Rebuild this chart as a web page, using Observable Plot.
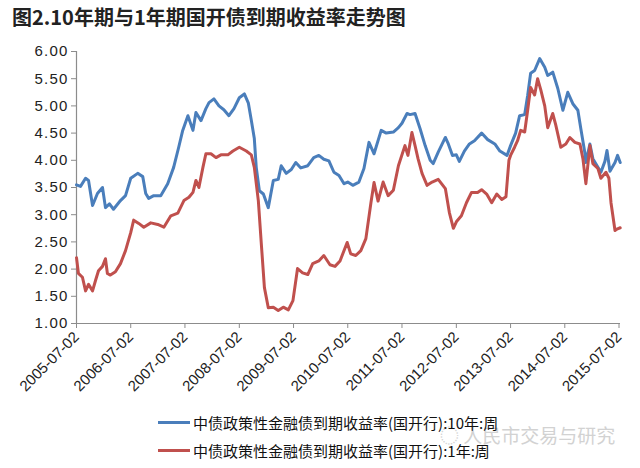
<!DOCTYPE html>
<html>
<head>
<meta charset="utf-8">
<script src="https://cdn.jsdelivr.net/npm/d3@7"></script>
<script src="https://cdn.jsdelivr.net/npm/@observablehq/plot@0.6"></script>
<style>
  html, body { margin: 0; padding: 0; background: #fff; }
  #wrap { position: relative; width: 640px; height: 468px; overflow: hidden; }
  #title { position: absolute; left: 12px; top: 5px; font-family: "Noto Sans CJK SC", sans-serif; font-weight: bold; font-size: 20px; line-height: 24px; color: #222; white-space: nowrap; }
  #chart { position: absolute; left: 0; top: 0; }
  #chart g[aria-label="y-axis tick label"] text { letter-spacing: 1.2px; }
  .leg { position: absolute; left: 158px; height: 20px; display: flex; align-items: center; font-family: "Noto Sans CJK SC", sans-serif; font-size: 15px; color: #111; white-space: nowrap; }
  .sw { width: 32px; height: 3px; margin-right: 3px; }
  #wm { position: absolute; left: 440px; top: 421px; font-family: "Noto Sans CJK SC", sans-serif; font-size: 19px; color: #d2d2d2; white-space: nowrap; }
</style>
</head>
<body>
<div id="wrap">
  <div id="chart"></div>
  <div id="title"></div>
  <div id="wm"></div>
  <div id="leg1" class="leg" style="top:412px"><div class="sw"></div><span></span></div>
  <div id="leg2" class="leg" style="top:440px"><div class="sw"></div><span></span></div>
</div>
<script>
const titleText = "图2.10年期与1年期国开债到期收益率走势图";
const seriesNames = ["中债政策性金融债到期收益率(国开行):10年:周", "中债政策性金融债到期收益率(国开行):1年:周"];
const seriesColors = ["#4a7ebb", "#c0504d"];
const watermark = "◌ 人民市交易与研究";
const xTickLabels = ["2005-07-02","2006-07-02","2007-07-02","2008-07-02","2009-07-02","2010-07-02","2011-07-02","2012-07-02","2013-07-02","2014-07-02","2015-07-02"];
const yTicks = [1, 1.5, 2, 2.5, 3, 3.5, 4, 4.5, 5, 5.5, 6];
const xDomain = ["2005-07-02", "2015-07-12"];

const dates10 = ["2005-07-02","2005-07-29","2005-09-01","2005-09-21","2005-10-18","2005-11-20","2005-12-24","2006-01-13","2006-02-09","2006-03-08","2006-04-24","2006-05-28","2006-07-02","2006-08-18","2006-09-21","2006-10-11","2006-10-31","2006-12-04","2007-01-20","2007-03-08","2007-04-17","2007-05-21","2007-06-17","2007-07-22","2007-08-25","2007-09-14","2007-10-18","2007-11-20","2007-12-11","2008-01-13","2008-02-16","2008-03-20","2008-04-23","2008-05-27","2008-07-02","2008-08-05","2008-09-01","2008-09-21","2008-10-11","2008-10-24","2008-11-14","2008-12-11","2009-01-13","2009-02-16","2009-03-21","2009-04-10","2009-05-14","2009-06-17","2009-07-17","2009-08-20","2009-10-06","2009-11-15","2009-12-19","2010-01-22","2010-02-25","2010-03-31","2010-05-04","2010-06-07","2010-07-02","2010-08-05","2010-09-15","2010-10-19","2010-11-22","2010-12-26","2011-02-12","2011-03-18","2011-05-05","2011-06-08","2011-07-02","2011-08-05","2011-08-25","2011-09-28","2011-11-01","2011-12-05","2012-01-08","2012-01-28","2012-03-02","2012-04-19","2012-05-09","2012-06-06","2012-07-02","2012-07-22","2012-08-25","2012-09-28","2012-11-01","2012-12-19","2013-01-29","2013-03-18","2013-04-21","2013-06-08","2013-07-02","2013-08-05","2013-09-01","2013-10-05","2013-10-25","2013-11-14","2013-12-11","2014-01-14","2014-02-17","2014-03-09","2014-04-12","2014-05-16","2014-06-19","2014-07-22","2014-08-25","2014-09-28","2014-10-18","2014-11-14","2014-11-21","2014-12-18","2015-01-07","2015-02-10","2015-03-02","2015-03-29","2015-04-12","2015-05-02","2015-06-05","2015-06-22","2015-07-10"];
const values10 = [3.55,3.52,3.67,3.63,3.17,3.39,3.50,3.13,3.20,3.10,3.26,3.35,3.67,3.76,3.70,3.39,3.30,3.35,3.35,3.57,3.87,4.24,4.55,4.82,4.55,4.88,4.73,4.95,5.06,5.13,5.00,4.93,4.82,4.95,5.15,5.22,5.05,4.73,4.40,3.87,3.44,3.38,3.13,3.63,3.65,3.90,3.76,3.83,3.96,3.86,3.90,4.05,4.09,4.02,3.99,3.78,3.72,3.57,3.60,3.54,3.60,3.85,4.33,4.12,4.55,4.50,4.52,4.60,4.68,4.86,4.84,4.86,4.58,4.27,4.00,3.94,4.15,4.42,4.30,4.09,4.10,3.98,4.17,4.30,4.36,4.50,4.38,4.30,4.17,4.09,4.27,4.50,4.82,4.84,5.19,5.60,5.65,5.87,5.71,5.56,5.62,5.32,4.92,5.25,5.04,4.92,4.58,4.14,3.96,4.30,4.03,3.87,3.78,3.98,4.18,3.80,3.96,4.09,3.96];

const dates1 = ["2005-07-02","2005-07-15","2005-08-11","2005-09-01","2005-09-21","2005-10-18","2005-11-07","2005-11-27","2005-12-24","2006-01-13","2006-01-26","2006-02-15","2006-03-21","2006-04-24","2006-05-28","2006-07-02","2006-07-22","2006-08-25","2006-09-28","2006-11-14","2006-12-31","2007-02-10","2007-03-29","2007-05-15","2007-06-25","2007-07-29","2007-08-25","2007-09-14","2007-10-04","2007-10-31","2007-11-20","2007-12-24","2008-01-27","2008-02-29","2008-04-16","2008-05-20","2008-07-02","2008-08-18","2008-09-21","2008-10-11","2008-11-07","2008-11-27","2008-12-18","2009-01-13","2009-02-16","2009-03-21","2009-04-24","2009-05-28","2009-06-28","2009-07-29","2009-09-01","2009-10-06","2009-11-08","2009-12-19","2010-01-22","2010-03-04","2010-04-07","2010-05-11","2010-06-28","2010-07-22","2010-08-25","2010-09-28","2010-11-01","2010-12-05","2010-12-26","2011-01-22","2011-02-25","2011-03-31","2011-05-05","2011-06-08","2011-07-22","2011-08-11","2011-09-07","2011-09-28","2011-10-18","2011-11-14","2011-12-18","2012-01-21","2012-03-02","2012-04-19","2012-05-16","2012-06-12","2012-07-02","2012-08-05","2012-09-08","2012-10-12","2012-11-22","2012-12-19","2013-01-22","2013-02-25","2013-03-31","2013-05-04","2013-06-01","2013-06-21","2013-07-02","2013-07-29","2013-08-18","2013-09-08","2013-10-05","2013-10-25","2013-11-14","2013-12-11","2013-12-31","2014-01-21","2014-02-17","2014-03-09","2014-04-12","2014-05-02","2014-06-05","2014-07-09","2014-08-05","2014-09-08","2014-10-12","2014-11-01","2014-11-21","2014-12-18","2015-01-07","2015-02-10","2015-03-02","2015-04-05","2015-04-25","2015-05-09","2015-06-05","2015-06-22","2015-07-10"];
const values1 = [2.21,1.92,1.85,1.60,1.72,1.60,1.79,1.97,2.05,2.19,1.92,1.89,1.95,2.10,2.34,2.67,2.90,2.84,2.77,2.85,2.82,2.77,2.98,3.03,3.26,3.32,3.41,3.63,3.50,3.87,4.12,4.12,4.05,4.10,4.10,4.17,4.24,4.17,4.10,3.87,3.26,2.47,1.66,1.29,1.30,1.24,1.30,1.25,1.42,2.01,1.93,1.90,2.10,2.15,2.25,2.08,2.05,2.15,2.49,2.28,2.25,2.34,2.56,3.22,3.59,3.25,3.60,3.35,3.45,3.90,4.27,4.09,4.51,4.27,4.03,3.76,3.54,3.60,3.65,3.48,3.04,2.75,2.87,2.98,3.22,3.41,3.41,3.46,3.38,3.22,3.38,3.28,3.33,4.00,4.09,4.24,4.36,4.55,4.52,4.92,5.34,5.20,5.50,5.30,5.00,4.60,4.86,4.65,4.24,4.30,4.42,4.33,4.30,4.03,3.57,4.27,3.94,3.85,3.67,3.78,3.67,3.22,2.71,2.74,2.76];

const parse = d3.utcParse("%Y-%m-%d");
const fmt = d3.utcFormat("%Y-%m-%d");
const data10 = dates10.map((d, i) => ({date: parse(d), value: values10[i]}));
const data1 = dates1.map((d, i) => ({date: parse(d), value: values1[i]}));
const xTicks = xTickLabels.map(parse);

document.getElementById("title").textContent = titleText;
document.getElementById("wm").textContent = watermark;
[["leg1", 0], ["leg2", 1]].forEach(([id, i]) => {
  const el = document.getElementById(id);
  el.querySelector(".sw").style.background = seriesColors[i];
  el.querySelector("span").textContent = seriesNames[i];
});

const chart = Plot.plot({
  width: 640,
  height: 400,
  marginTop: 51,
  marginBottom: 77,
  marginLeft: 76,
  marginRight: 20,
  x: {type: "utc", domain: xDomain.map(parse)},
  y: {domain: [1, 6]},
  style: {fontFamily: "'Liberation Sans', Arial, sans-serif", fontSize: "15px", color: "#222", background: "transparent"},
  marks: [
    Plot.ruleY([1], {stroke: "#8c8c8c", strokeWidth: 1.2}),
    Plot.ruleX([xTicks[0]], {stroke: "#8c8c8c", strokeWidth: 1.2}),
    Plot.axisY({ticks: yTicks, tickFormat: d => d.toFixed(2), tickSize: 5, tickPadding: 3, label: null, stroke: "#8c8c8c"}),
    Plot.axisX({ticks: xTicks, tickFormat: fmt, tickRotate: -45, tickSize: 5, tickPadding: 6, label: null, stroke: "#8c8c8c"}),
    Plot.line(data10, {x: "date", y: "value", stroke: seriesColors[0], strokeWidth: 3, strokeLinejoin: "round"}),
    Plot.line(data1, {x: "date", y: "value", stroke: seriesColors[1], strokeWidth: 3, strokeLinejoin: "round"})
  ]
});
document.getElementById("chart").appendChild(chart);
</script>
</body>
</html>
